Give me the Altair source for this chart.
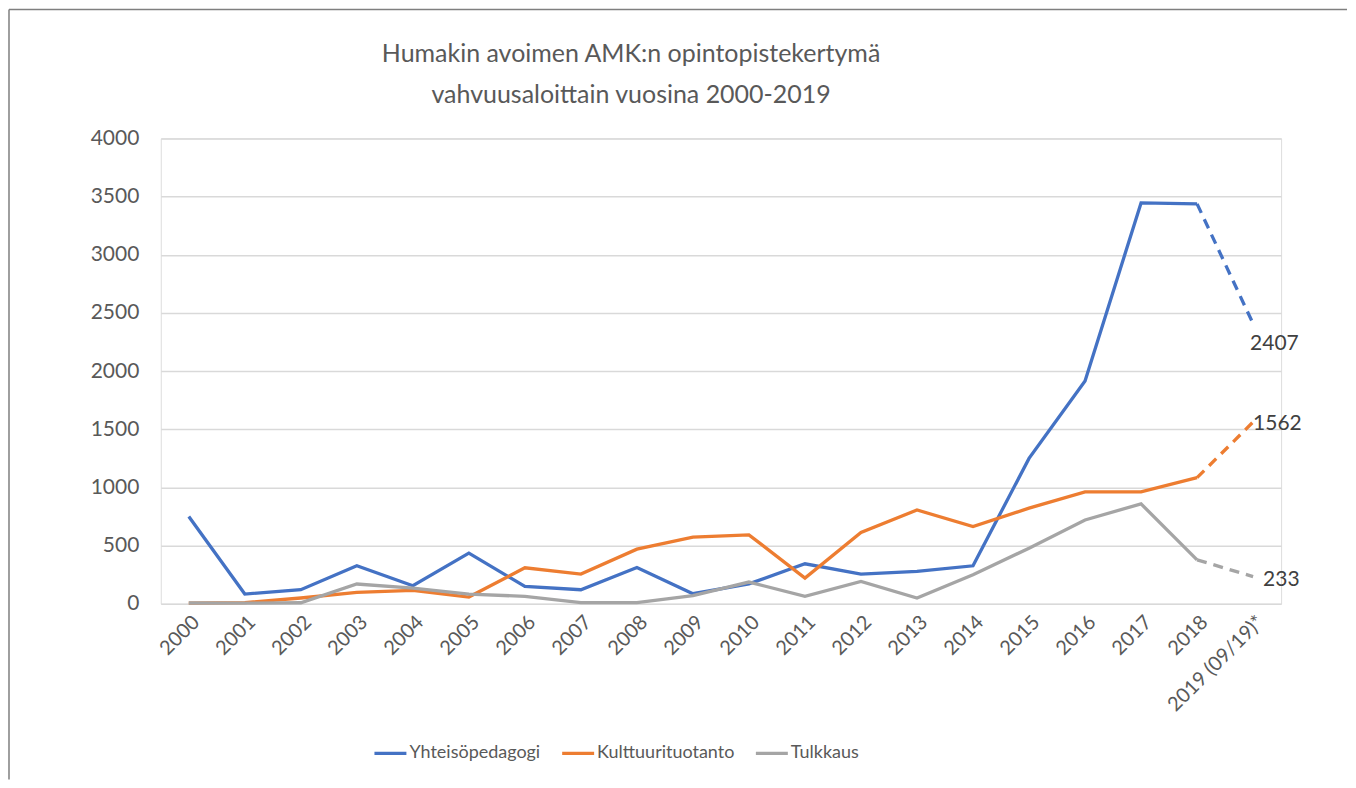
import altair as alt
import pandas as pd

years = ["2000", "2001", "2002", "2003", "2004", "2005", "2006", "2007", "2008", "2009",
         "2010", "2011", "2012", "2013", "2014", "2015", "2016", "2017", "2018", "2019 (09/19)*"]
series_names = ["Yhteisöpedagogi", "Kulttuurituotanto", "Tulkkaus"]
yhteiso = [750, 83, 120, 326, 154, 435, 148, 120, 311, 86, 171, 343, 255, 277, 326, 1249, 1915, 3445, 3437, 2407]
kulttuuri = [5, 10, 49, 97, 114, 57, 309, 255, 469, 572, 592, 220, 612, 806, 663, 821, 961, 961, 1083, 1562]
tulkkaus = [6, 5, 8, 169, 134, 83, 63, 10, 10, 69, 186, 63, 191, 49, 249, 477, 720, 858, 377, 233]
colors = ["#4472C4", "#ED7D31", "#A5A5A5"]
title_lines = ["Humakin avoimen AMK:n opintopistekertymä", "vahvuusaloittain vuosina 2000-2019"]

rows = []
for name, vals in zip(series_names, [yhteiso, kulttuuri, tulkkaus]):
    for i, (yr, v) in enumerate(zip(years, vals)):
        rows.append({"series": name, "year": yr, "value": v, "idx": i})
df = pd.DataFrame(rows)
solid = df[df["idx"] <= 18]
dashed = df[df["idx"] >= 18]
last = df[df["idx"] == 19]

font = "Lato"
text_color = "#595959"

x_enc = alt.X("year:N", sort=years, scale=alt.Scale(domain=years, paddingInner=0, paddingOuter=0.5),
              axis=alt.Axis(title=None, labelAngle=-45, labelFontSize=20, labelColor=text_color,
                            labelFont=font, ticks=False, domain=False, grid=False, labelPadding=8))
y_enc = alt.Y("value:Q", scale=alt.Scale(domain=[0, 4000], nice=False),
              axis=alt.Axis(title=None, values=list(range(0, 4001, 500)), format="d", labelFontSize=21,
                            labelColor=text_color, labelFont=font, ticks=False, domain=False,
                            gridColor="#d9d9d9", gridWidth=1.5, labelPadding=22))
color_scale = alt.Scale(domain=series_names, range=colors)

one = pd.DataFrame({"a": [0]})
frame_top = alt.Chart(one).mark_rule(stroke="#7f7f7f", strokeWidth=1.5).encode(
    x=alt.value(-152), x2=alt.value(1188), y=alt.value(-129))
frame_left = alt.Chart(one).mark_rule(stroke="#7f7f7f", strokeWidth=1.5).encode(
    x=alt.value(-152), y=alt.value(-129), y2=alt.value(642))

title_style = dict(fontSize=25, font=font, color=text_color, align="center", baseline="alphabetic")
title1 = alt.Chart(one).mark_text(text=title_lines[0], **title_style).encode(
    x=alt.value(471), y=alt.value(-76))
title2 = alt.Chart(one).mark_text(text=title_lines[1], **title_style).encode(
    x=alt.value(471), y=alt.value(-35))

solid_lines = alt.Chart(solid).mark_line(strokeWidth=3.3, strokeJoin="miter").encode(
    x=x_enc, y=y_enc,
    color=alt.Color("series:N", scale=color_scale, sort=series_names,
                    legend=alt.Legend(title=None, orient="none", legendX=212, legendY=598,
                                      direction="horizontal", symbolType="stroke",
                                      symbolSize=1024, symbolStrokeWidth=3.3,
                                      labelFontSize=18, labelColor=text_color, labelFont=font,
                                      labelOffset=1, columnPadding=14)),
    detail="series:N",
    order=alt.Order("idx:Q"),
)

dashed_lines = alt.Chart(dashed).mark_line(strokeWidth=3.3, strokeDash=[10, 7]).encode(
    x=x_enc, y=y_enc,
    color=alt.Color("series:N", scale=color_scale, legend=None),
    detail="series:N",
)

label_common = dict(fontSize=21, font=font, color="#404040", align="left", baseline="middle")
lab_y = alt.Chart(last[last["series"] == series_names[0]]).mark_text(dx=-3, dy=20, **label_common).encode(
    x=x_enc, y=y_enc, text=alt.Text("value:Q", format="d"))
lab_k = alt.Chart(last[last["series"] == series_names[1]]).mark_text(dx=0, dy=2, **label_common).encode(
    x=x_enc, y=y_enc, text=alt.Text("value:Q", format="d"))
lab_t = alt.Chart(last[last["series"] == series_names[2]]).mark_text(dx=10, dy=3, **label_common).encode(
    x=x_enc, y=y_enc, text=alt.Text("value:Q", format="d"))

chart = alt.layer(frame_top, frame_left, title1, title2, solid_lines, dashed_lines,
                  lab_y, lab_k, lab_t).properties(
    width=1122, height=466,
    autosize=alt.AutoSizeParams(type="pad"),
    padding=0,
).configure_view(stroke=None).configure(background="white")

chart.save("out.html", embed_options={"renderer": "svg", "actions": False})
